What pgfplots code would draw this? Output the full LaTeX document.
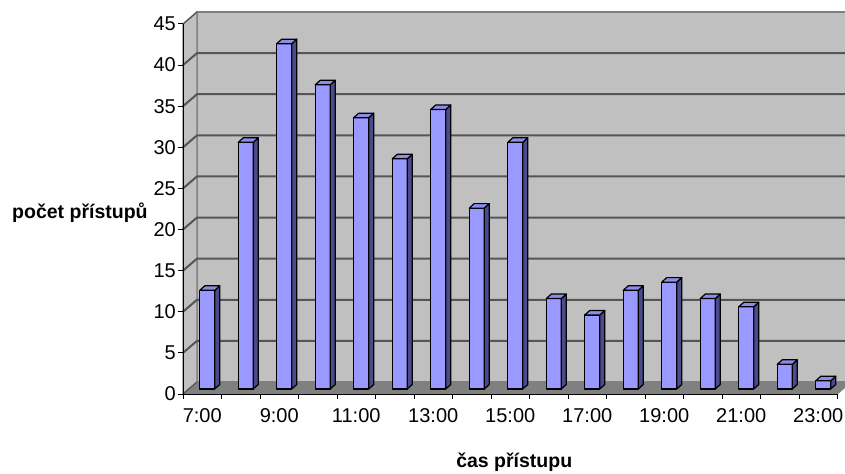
\documentclass[border=0pt]{standalone}
\usepackage{pgfplots}
\pgfplotsset{compat=1.18}
\usepackage{fontspec}
\setmainfont{Liberation Sans}

\definecolor{wallgray}{RGB}{192,192,192}
\definecolor{floorgray}{RGB}{128,128,128}
\definecolor{gridgray}{RGB}{85,85,85}
\definecolor{barfront}{RGB}{153,153,255}
\definecolor{barside}{RGB}{75,75,140}
\definecolor{bartop}{RGB}{140,140,235}

% empty mark, the 3D bar is drawn by the scatter code
\pgfdeclareplotmark{none3d}{}

\begin{document}
\begin{tikzpicture}
\begin{axis}[
  set layers,
  scale only axis,
  width=654.5bp, height=370bp,
  xmin=0.5, xmax=17.5, ymin=0, ymax=45,
  clip=false,
  axis x line*=bottom, axis y line*=left,
  axis line style={black, line width=1bp, -},
  tick align=outside,
  tick style={black, line width=1bp},
  major tick length=5bp, minor tick length=5bp,
  ytick={0,5,...,45},
  xtick={1,3,...,17},
  xticklabels={7:00,9:00,11:00,13:00,15:00,17:00,19:00,21:00,23:00},
  major x tick style={draw=none},
  minor xtick={0.5,1.5,...,17.5},
  /pgf/number format/assume math mode=true,
  ticklabel style={font=\fontsize{20bp}{23bp}\selectfont},
  yticklabel style={inner xsep=2bp},
  xticklabel style={yshift=-6bp},
  xlabel={čas přístupu},
  ylabel={počet přístupů},
  every axis x label/.style={at={(axis description cs:0.5,0)}, anchor=center,
    xshift=4bp, yshift=-68bp, font=\fontsize{19.5bp}{22bp}\selectfont\bfseries},
  every axis y label/.style={at={(axis description cs:0,0.49)}, anchor=west,
    xshift=-171bp, inner sep=0pt, font=\fontsize{19.5bp}{22bp}\selectfont\bfseries},
]
\begin{pgfonlayer}{axis background}
  % back wall
  \filldraw[fill=wallgray, draw=floorgray, line width=1.2bp]
    ([shift={(14bp,12bp)}]axis cs:0.5,0) rectangle ([shift={(14bp,12bp)}]axis cs:17.5,45);
  % side wall
  \filldraw[fill=wallgray, draw=floorgray, line width=1.2bp]
    (axis cs:0.5,0) -- ([shift={(14bp,12bp)}]axis cs:0.5,0)
    -- ([shift={(14bp,12bp)}]axis cs:0.5,45) -- (axis cs:0.5,45) -- cycle;
  % floor
  \filldraw[fill=floorgray, draw=floorgray, line width=0.5bp]
    (axis cs:0.5,0) -- (axis cs:17.5,0) -- ([shift={(14bp,12bp)}]axis cs:17.5,0)
    -- ([shift={(14bp,12bp)}]axis cs:0.5,0) -- cycle;
  % gridlines
  \pgfplotsinvokeforeach{5,10,...,40}{
    \draw[gridgray, line width=2bp] (axis cs:0.5,#1) -- ([shift={(14bp,12bp)}]axis cs:0.5,#1)
      -- ([shift={(14bp,12bp)}]axis cs:17.5,#1);
  }
  \draw[gridgray, line width=1.2bp] (axis cs:0.5,45) -- ([shift={(14bp,12bp)}]axis cs:0.5,45);
  \draw[gridgray, line width=1.2bp] (axis cs:0.5,0) -- ([shift={(14bp,12bp)}]axis cs:0.5,0);
\end{pgfonlayer}

\addplot[scatter, only marks, mark=none3d, point meta=y,
  visualization depends on={rawy \as \vy},
  scatter/@pre marker code/.code={%
    \pgfmathsetmacro\yb{5-\vy*370/45}%
    \pgfmathsetmacro\ybb{\yb+4.5}%
    \filldraw[fill=barfront, draw=black, line width=1.2bp, line join=round]
      (-2.5bp,\yb bp) rectangle (12.5bp,5bp);
    \filldraw[fill=barside, draw=black, line width=1.2bp, line join=round]
      (12.5bp,\yb bp) -- (17.5bp,\ybb bp) -- (17.5bp,9.5bp) -- (12.5bp,5bp) -- cycle;
    \filldraw[fill=bartop, draw=black, line width=1.2bp, line join=round]
      (-2.5bp,5bp) -- (12.5bp,5bp) -- (17.5bp,9.5bp) -- (2.5bp,9.5bp) -- cycle;
  },
  scatter/@post marker code/.code={},
] coordinates {
  (1,12) (2,30) (3,42) (4,37) (5,33) (6,28) (7,34) (8,22) (9,30)
  (10,11) (11,9) (12,12) (13,13) (14,11) (15,10) (16,3) (17,1)
};
\end{axis}
\pgfresetboundingbox
\path[use as bounding box] (-183bp,-80bp) rectangle (662bp,394bp);
\end{tikzpicture}
\end{document}
